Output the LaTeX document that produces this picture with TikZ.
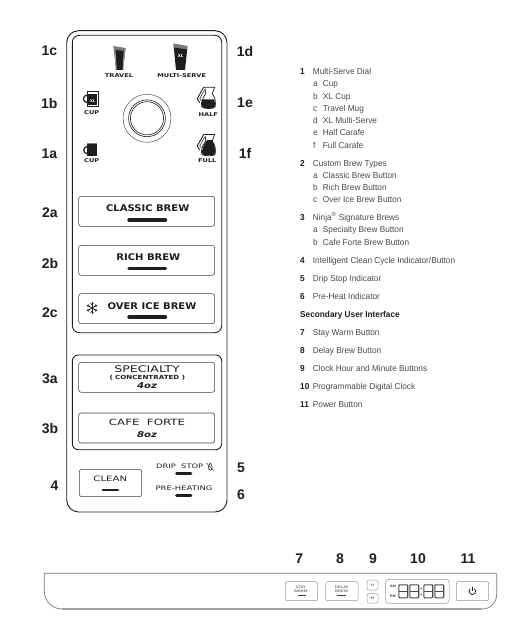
\documentclass[tikz,border=0pt]{standalone}
\usepackage{fontspec}
\setmainfont{Liberation Sans}
\newfontfamily\listf[FakeStretch=0.96]{Liberation Sans}
\newfontfamily\panelf{DejaVu Sans}
\newfontfamily\panelb[FakeStretch=1.09]{DejaVu Sans}
\newfontfamily\panelw[FakeStretch=1.27]{DejaVu Sans}
\newfontfamily\panelx[FakeStretch=1.37]{DejaVu Sans}
\definecolor{ink}{HTML}{1E1E1E}
\definecolor{listc}{HTML}{4A4A4A}
\definecolor{soft}{HTML}{7A7A7A}
\tikzset{
  panel/.style={draw=ink,line width=0.9pt,rounded corners=#1},
  btn/.style={draw=ink!85,line width=0.55pt,rounded corners=2.5pt},
  softbtn/.style={draw=soft!80,line width=0.5pt,rounded corners=2pt},
  bar/.style={line width=3.4pt,line cap=round,draw=ink},
  softbar/.style={line width=1.1pt,draw=ink!85},
  callout/.style={inner sep=0pt,text=ink,font=\bfseries\fontsize{14}{14}\selectfont},
  iconlab/.style={inner sep=0pt,text=ink,font=\panelw\bfseries\fontsize{5.2}{5.2}\selectfont},
  brew/.style={inner sep=0pt,text=ink,font=\panelb\bfseries\fontsize{9.2}{9.2}\selectfont},
  thin/.style={inner sep=0pt,text=ink,font=\panelx\fontsize{#1}{#1}\selectfont},
  oz/.style={inner sep=0pt,text=ink,font=\panelw\bfseries\itshape\fontsize{8}{8}\selectfont},
  tiny/.style={inner sep=0pt,text=ink!85,font=\panelw\fontsize{3.4}{4.3}\selectfont,align=center},
  ln/.style={anchor=west,inner sep=0pt,text height=6pt,text depth=1.8pt,text=listc,font=\listf\fontsize{8.6}{8.6}\selectfont},
  lb/.style={anchor=west,inner sep=0pt,text height=6pt,text depth=1.8pt,text=ink,font=\listf\bfseries\fontsize{8.6}{8.6}\selectfont},
  seg/.style={draw=ink!80,line width=1.1pt},
}
\newcommand{\carafeicon}[2]{%
  \begin{scope}[shift={#1}]
    \draw[ink,line width=0.7pt,line join=round] (7,0.5) -- (18,0.5) -- (15.5,7) .. controls (19,11) and (19,16) .. (18.5,20) .. controls (18,22.5) and (6,22.5) .. (5,20) .. controls (4,16) and (6,11) .. (9,7) -- (8.5,2);
    \draw[ink,line width=0.9pt] (7,0.5) -- (0.5,12) -- (3,16);
    \draw[ink,line width=0.5pt] (8,3) -- (3,12) -- (4.5,14);
    \fill[ink] #2;
  \end{scope}}
\newcommand{\digitsegs}[1]{%
  \begin{scope}[shift={#1}]
    \draw[seg,rounded corners=0.8pt] (0.6,0.6) rectangle (9.4,13.6);
    \draw[seg] (0.6,7.1) -- (9.4,7.1);
  \end{scope}}
\begin{document}
\begin{tikzpicture}[x=1pt,y=-1pt]
\useasboundingbox (0,0) rectangle (512,631);
% main panel
\draw[panel=12pt] (66.7,30.7) rectangle (227,512);
\draw[panel=7pt] (72.3,35.3) rectangle (221.7,332.7);
\draw[panel=6pt] (72.3,355) rectangle (221.7,449.7);
% dial
\draw[ink,line width=0.35pt] (147,118.3) circle (24);
\draw[ink,line width=0.6pt] (147,118.3) circle (18.4);
\draw[ink,line width=0.6pt] (147,118.3) circle (16.6);
% travel mug
\fill[soft] (113.3,46) -- (125.8,48) -- (125.2,52) -- (113.8,51) -- cycle;
\fill[ink] (114,50) -- (125.2,51) -- (123,70) -- (116,70) -- cycle;
\fill[soft!70] (114.2,50) -- (115.4,50) -- (116.8,69) -- (116,69) -- cycle;
\fill[soft!70] (123.8,51) -- (125,51) -- (123.2,69) -- (122.6,69) -- cycle;
% multi-serve
\fill[soft] (173.3,43.3) -- (187.7,46) -- (187.2,50) -- (173.6,48) -- cycle;
\fill[ink] (173.8,47.5) -- (187.2,49.5) -- (185,70) -- (176,70) -- cycle;
\node (xlmulti) at (180.6,56.5) [inner sep=0pt,text=white,font=\panelf\bfseries\fontsize{4}{4}\selectfont] {XL};
% XL cup
\draw[ink,line width=1.2pt] (87,95.2) arc[start angle=-90,end angle=-270,radius=3.6];
\draw[ink,line width=0.7pt,fill=white] (87,91.7) rectangle (98.3,106);
\fill[ink] (88.4,94.5) rectangle (96.8,105);
\node (xlcup) at (92.6,101.4) [inner sep=0pt,text=white,font=\panelf\bfseries\fontsize{3.6}{3.6}\selectfont] {XL};
% cup
\draw[ink,line width=1.2pt] (87.4,146.5) arc[start angle=-90,end angle=-270,radius=3.6];
\fill[ink] (87.4,143.8) rectangle (96.8,156);
\draw[soft,line width=0.5pt] (87.4,143.6) -- (96.8,143.6);
% carafes
\carafeicon{(196.7,86.7)}{(5.3,12.8) -- (17.6,12.8) .. controls (18.4,16) and (18.4,18) .. (18,20) .. controls (17.5,22) and (6.5,22) .. (5.6,20) .. controls (4.8,18) and (4.6,15) .. (5.3,12.8) -- cycle}
\carafeicon{(196.7,134)}{(10.5,6) -- (15,6) .. controls (18.5,11) and (18.5,16) .. (18,20) .. controls (17.5,22) and (6.5,22) .. (5.6,20) .. controls (4.8,16) and (6.5,11) .. (10.5,6) -- cycle}
% icon labels
\node[iconlab] (ltravel) at (119,75.3) {TRAVEL};
\node[iconlab] (lmulti) at (181.7,75.3) {MULTI-SERVE};
\node[iconlab] (lcupxl) at (91.7,112.3) {CUP};
\node[iconlab] (lhalf) at (208.3,114.3) {HALF};
\node[iconlab] (lcup) at (91.7,161) {CUP};
\node[iconlab] (lfull) at (207.3,161) {FULL};
% brew buttons
\draw[btn] (78.7,196.3) rectangle (214.7,226.3);
\draw[btn] (78.7,245.3) rectangle (214.7,275.3);
\draw[btn] (78.7,293.7) rectangle (214.7,323.7);
\node[brew] (classic) at (147.7,208.3) {CLASSIC BREW};
\node[brew] (rich) at (148.3,257.3) {RICH BREW};
\node[brew] (overice) at (152,305.7) {OVER ICE BREW};
\draw[bar] (129,220) -- (165.5,220);
\draw[bar] (129,268.3) -- (165.5,268.3);
\draw[bar] (129,317) -- (165.5,317);
% snowflake
\foreach \a in {30,90,150} {
  \draw[ink,line width=0.8pt,rotate around={\a:(92,308)}] (86,308) -- (98,308);
}
\foreach \a in {30,90,150,210,270,330} {
  \draw[ink,line width=0.5pt,rotate around={\a:(92,308)}] (96.8,306.4) -- (95.2,308) -- (96.8,309.6);
}
% signature
\draw[btn] (78.7,362.3) rectangle (214.7,392.3);
\draw[btn] (78.7,413) rectangle (214.7,443);
\node[thin=9.2] (specialty) at (147,369.3) {SPECIALTY};
\node[inner sep=0pt,text=ink,font=\panelw\bfseries\fontsize{5.6}{5.6}\selectfont] (conc) at (147.3,377.3) {( CONCENTRATED )};
\node[oz] (oz4) at (147,386) {4oz};
\node[thin=8.6] (cafe) at (147,422.3) {CAFE\ \ FORTE};
\node[oz] (oz8) at (147,435) {8oz};
% clean and indicators
\draw[btn] (79.3,469.3) rectangle (141.7,496.7);
\node[thin=7.4] (clean) at (110.3,479.3) {CLEAN};
\draw[bar,line width=2.8pt] (103,490) -- (118,490);
\node[thin=6.1] (drip) at (179.7,466) {DRIP\ \ STOP};
\draw[ink,line width=0.5pt] (210.3,463) .. controls (208,466) and (207.5,470) .. (210.3,470) .. controls (213,470) and (212.5,466) .. (210.3,463);
\draw[ink,line width=0.5pt] (206.5,463) -- (213.5,470.5);
\draw[bar,line width=2.8pt] (176.5,473.7) -- (191,473.7);
\node[thin=6.2] (preheat) at (184,488) {PRE-HEATING};
\draw[bar,line width=2.8pt] (176.5,495.3) -- (191,495.3);
% callouts
\node[callout] (c1c) at (49.3,51) {1c};
\node[callout] (c1d) at (245,51) {1d};
\node[callout] (c1b) at (49.3,103) {1b};
\node[callout] (c1e) at (245,103) {1e};
\node[callout] (c1a) at (49.3,154) {1a};
\node[callout] (c1f) at (245,153) {1f};
\node[callout] (c2a) at (50,212.7) {2a};
\node[callout] (c2b) at (50,263) {2b};
\node[callout] (c2c) at (50,313) {2c};
\node[callout] (c3a) at (50,379) {3a};
\node[callout] (c3b) at (50,429) {3b};
\node[callout] (c4) at (54.6,485.7) {4};
\node[callout] (c5) at (241,468) {5};
\node[callout] (c6) at (241,495) {6};
\node[callout] (c7) at (299.3,558.7) {7};
\node[callout] (c8) at (340,558.7) {8};
\node[callout] (c9) at (373,558.7) {9};
\node[callout] (c10) at (418,558.7) {10};
\node[callout] (c11) at (468,558.7) {11};
% list
\node[lb] (n1) at (300,72.7) {1};
\node[ln] (t1) at (312.7,72.7) {Multi-Serve Dial};
\node[ln] (s1a) at (313,84.7) {a}; \node[ln] (t1a) at (322.7,84.7) {Cup};
\node[ln] (s1b) at (313,97.3) {b}; \node[ln] (t1b) at (322.7,97.3) {XL Cup};
\node[ln] (s1c) at (313,109.3) {c}; \node[ln] (t1c) at (322.7,109.3) {Travel Mug};
\node[ln] (s1d) at (313,121.7) {d}; \node[ln] (t1d) at (322.7,121.7) {XL Multi-Serve};
\node[ln] (s1e) at (313,133.7) {e}; \node[ln] (t1e) at (322.7,133.7) {Half Carafe};
\node[ln] (s1f) at (313,146.3) {f}; \node[ln] (t1f) at (322.7,146.3) {Full Carafe};
\node[lb] (n2) at (300,164.3) {2};
\node[ln] (t2) at (312.7,164.3) {Custom Brew Types};
\node[ln] (s2a) at (313,176.7) {a}; \node[ln] (t2a) at (322.7,176.7) {Classic Brew Button};
\node[ln] (s2b) at (313,188.3) {b}; \node[ln] (t2b) at (322.7,188.3) {Rich Brew Button};
\node[ln] (s2c) at (313,200.3) {c}; \node[ln] (t2c) at (322.7,200.3) {Over Ice Brew Button};
\node[lb] (n3) at (300,218.7) {3};
\node[ln] (t3) at (312.7,218.7) {Ninja\textsuperscript{®} Signature Brews};
\node[ln] (s3a) at (313,230.7) {a}; \node[ln] (t3a) at (322.7,230.7) {Specialty Brew Button};
\node[ln] (s3b) at (313,243.3) {b}; \node[ln] (t3b) at (322.7,243.3) {Cafe Forte Brew Button};
\node[lb] (n4) at (300,261.7) {4};
\node[ln] (t4) at (312.7,261.7) {Intelligent Clean Cycle Indicator/Button};
\node[lb] (n5) at (300,279.3) {5};
\node[ln] (t5) at (312.7,279.3) {Drip Stop Indicator};
\node[lb] (n6) at (300,297.3) {6};
\node[ln] (t6) at (312.7,297.3) {Pre-Heat Indicator};
\node[lb] (sec) at (300,315.7) {Secondary User Interface};
\node[lb] (n7) at (300,333.7) {7};
\node[ln] (t7) at (312.7,333.7) {Stay Warm Button};
\node[lb] (n8) at (300,351.7) {8};
\node[ln] (t8) at (312.7,351.7) {Delay Brew Button};
\node[lb] (n9) at (300,369.7) {9};
\node[ln] (t9) at (312.7,369.7) {Clock Hour and Minute Buttons};
\node[lb] (n10) at (300,387.7) {10};
\node[ln] (t10) at (312.7,387.7) {Programmable Digital Clock};
\node[lb] (n11) at (300,405.7) {11};
\node[ln] (t11) at (312.7,405.7) {Power Button};
% secondary panel
\draw[soft!70,line width=1.4pt] (62,609) -- (482,609);
\draw[soft,line width=0.7pt] (496.7,573.3) -- (44.3,573.3) -- (44.3,591) .. controls (44.3,601) and (52,609) .. (62,609);
\draw[soft,line width=0.7pt] (482,609) .. controls (491,609) and (496.7,602) .. (496.7,594) -- (496.7,573.3);
\draw[softbtn] (285.3,581.7) rectangle (317.7,600.7);
\node[tiny] (stay) at (300.7,589) {STAY\\WARM};
\draw[softbar] (298,595.9) -- (306,595.9);
\draw[softbtn] (325.7,581.7) rectangle (358,600.7);
\node[tiny] (delay) at (341.7,589) {DELAY\\BREW};
\draw[softbar] (337.3,595.9) -- (346,595.9);
\draw[softbtn] (367,580) rectangle (378,590);
\node[tiny] (hbtn) at (372.5,585) {H};
\draw[softbtn] (367,593.7) rectangle (378,603);
\node[tiny] (mbtn) at (372.5,598.3) {M};
\draw[softbtn,rounded corners=3pt] (385.7,579.3) rectangle (449,603.3);
\node[tiny,font=\panelf\bfseries\fontsize{3.2}{3.2}\selectfont] (am) at (393,586) {AM};
\node[tiny,font=\panelf\bfseries\fontsize{3.2}{3.2}\selectfont] (pm) at (393,596) {PM};
\digitsegs{(398.3,584.2)}
\digitsegs{(409.3,584.2)}
\fill[ink!80] (421.2,588.3) circle (0.8) (421.2,594.3) circle (0.8);
\digitsegs{(423.3,584.2)}
\digitsegs{(434.3,584.2)}
\draw[softbtn] (456.3,581.7) rectangle (488.7,600.7);
\draw[ink,line width=0.8pt] (474.42,588.77) arc[start angle=-50,end angle=230,radius=3.3];
\draw[ink,line width=0.8pt] (472.3,586.6) -- (472.3,590.8);
\end{tikzpicture}
\end{document}
